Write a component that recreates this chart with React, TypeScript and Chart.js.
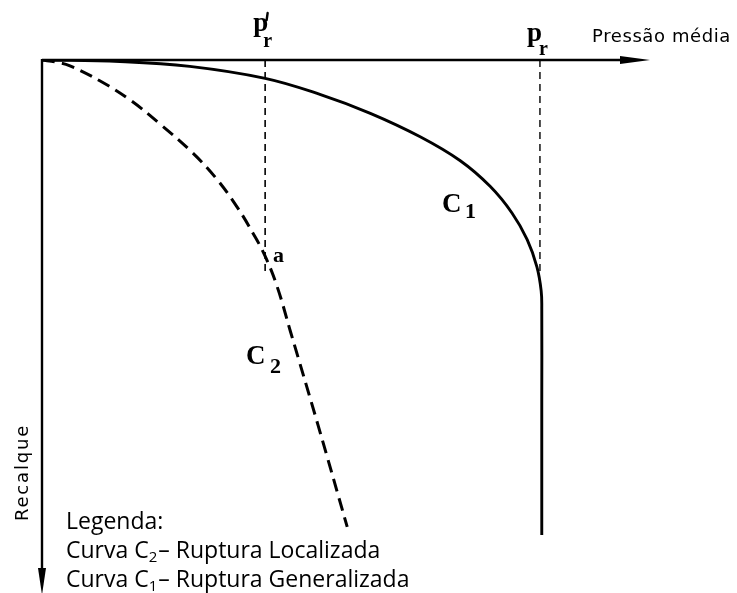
import { useEffect, useRef } from "react";
import { Chart, registerables } from "chart.js";

Chart.register(...registerables);

// Curve C1 — general shear failure (solid line)
const c1Pressure = [0, 12.8, 24.3, 36.7, 45.7, 54.0, 62.2, 68.8, 73.7, 77.3, 79.8, 81.4, 82.1, 82.2, 82.2, 82.2];
const c1Settlement = [0, 0.28, 1.2, 3.45, 6.45, 10.0, 14.4, 18.9, 23.7, 28.7, 33.7, 38.8, 43.3, 46.9, 63.8, 89.1];

// Curve C2 — local shear failure (dashed line)
const c2Pressure = [0, 2.3, 4.6, 9.5, 14.5, 19.4, 24.3, 28.5, 32.1, 34.7, 36.7, 38.7, 40.8, 45.4, 50.2];
const c2Settlement = [0, 0.4, 1.1, 3.9, 7.5, 12.0, 16.9, 22.0, 27.6, 32.5, 36.8, 42.6, 50.7, 68.5, 87.6];

// Failure pressures and the depth their guide lines reach
const prPrime = 36.7;
const prPrimeDepth = 39.8;
const pr = 81.9;
const prDepth = 40.5;

// Axis extents
const xMax = 100;
const yMax = 100;

const legendTitle = "Legenda:";
const legendRows = [
  { sub: "2", text: "– Ruptura Localizada" },
  { sub: "1", text: "– Ruptura Generalizada" },
];

const toPoints = (xs: number[], ys: number[]) => xs.map((x, i) => ({ x, y: ys[i] }));

const SERIF = "'Liberation Serif', 'Times New Roman', serif";
const SANS = "'DejaVu Sans', sans-serif";
const LEGEND = "'Open Sans', Lato, sans-serif";

function fitText(ctx: CanvasRenderingContext2D, text: string, x: number, y: number, width: number) {
  ctx.letterSpacing = "0px";
  const m = ctx.measureText(text).width;
  const ls = (width - m) / text.length;
  ctx.letterSpacing = `${ls}px`;
  ctx.fillText(text, x, y);
  ctx.letterSpacing = "0px";
}

const diagramPlugin = {
  id: "diagram",
  afterDatasetsDraw(chart: Chart) {
    const ctx = chart.ctx;
    const xs = chart.scales.x;
    const ys = chart.scales.y;
    const x0 = xs.getPixelForValue(0);
    const y0 = ys.getPixelForValue(0);
    const xEnd = xs.getPixelForValue(xMax);
    const yEnd = ys.getPixelForValue(yMax);

    ctx.save();
    ctx.strokeStyle = "#000";
    ctx.fillStyle = "#000";

    // horizontal axis with arrow
    ctx.lineWidth = 2.4;
    ctx.beginPath();
    ctx.moveTo(x0, y0);
    ctx.lineTo(xEnd - 20, y0);
    ctx.stroke();
    ctx.beginPath();
    ctx.moveTo(xEnd, y0);
    ctx.lineTo(xEnd - 30, y0 - 4);
    ctx.lineTo(xEnd - 30, y0 + 4);
    ctx.closePath();
    ctx.fill();

    // vertical axis with arrow
    ctx.lineWidth = 2.4;
    ctx.beginPath();
    ctx.moveTo(x0, y0 - 1);
    ctx.lineTo(x0, yEnd - 15);
    ctx.stroke();
    ctx.beginPath();
    ctx.moveTo(x0, yEnd + 2);
    ctx.lineTo(x0 - 4, yEnd - 25);
    ctx.lineTo(x0 + 4, yEnd - 25);
    ctx.closePath();
    ctx.fill();

    // pressure labels
    const xp1 = xs.getPixelForValue(prPrime);
    const xp2 = xs.getPixelForValue(pr);
    ctx.textBaseline = "alphabetic";
    ctx.textAlign = "left";
    ctx.font = `bold 27px ${SERIF}`;
    ctx.fillText("p", xp1 - 12, y0 - 29);
    ctx.font = `bold 20px ${SERIF}`;
    ctx.fillText("r", xp1 - 2, y0 - 13);
    // prime mark
    ctx.lineWidth = 2.4;
    ctx.lineCap = "round";
    ctx.beginPath();
    ctx.moveTo(xp1 + 2.5, y0 - 47);
    ctx.lineTo(xp1 + 1.5, y0 - 40);
    ctx.stroke();
    ctx.lineCap = "butt";

    ctx.font = `bold 27px ${SERIF}`;
    ctx.fillText("p", xp2 - 13, y0 - 19);
    ctx.font = `bold 20px ${SERIF}`;
    ctx.fillText("r", xp2 - 1, y0 - 5);

    ctx.font = `18px ${SANS}`;
    fitText(ctx, "Pressão média", 592, y0 - 18, 139);

    // curve labels
    ctx.font = `bold 27px ${SERIF}`;
    ctx.fillText("C", 442, 212);
    ctx.font = `bold 22px ${SERIF}`;
    ctx.fillText("1", 465, 218);

    ctx.font = `bold 27px ${SERIF}`;
    ctx.fillText("C", 246, 364);
    ctx.font = `bold 22px ${SERIF}`;
    ctx.fillText("2", 270, 373);

    ctx.font = `bold 22px ${SERIF}`;
    ctx.fillText("a", 273, 262);

    // vertical axis title
    ctx.save();
    ctx.translate(28, 473);
    ctx.rotate(-Math.PI / 2);
    ctx.textAlign = "left";
    ctx.font = `18px ${SANS}`;
    fitText(ctx, "Recalque", -48, 0, 97);
    ctx.restore();

    // legend block
    ctx.font = `23px ${LEGEND}`;
    ctx.fillText(legendTitle, 66, 529);
    legendRows.forEach((row, i) => {
      const by = 558 + i * 29;
      let x = 66;
      ctx.font = `23px ${LEGEND}`;
      ctx.fillText("Curva C", x, by);
      x += ctx.measureText("Curva C").width;
      ctx.font = `15px ${LEGEND}`;
      ctx.fillText(row.sub, x, by + 4);
      x += ctx.measureText(row.sub).width + 1;
      ctx.font = `23px ${LEGEND}`;
      ctx.fillText(row.text, x, by);
    });

    ctx.restore();
  },
};

export default function App() {
  const canvasRef = useRef<HTMLCanvasElement | null>(null);

  useEffect(() => {
    const canvas = canvasRef.current;
    if (!canvas) return;
    const chart = new Chart(canvas, {
      type: "scatter",
      data: {
        datasets: [
          {
            label: "C1",
            data: toPoints(c1Pressure, c1Settlement),
            showLine: true,
            borderColor: "#000",
            borderWidth: 2.9,
            pointRadius: 0,
            tension: 0.4,
            fill: false,
          },
          {
            label: "C2",
            data: toPoints(c2Pressure, c2Settlement),
            showLine: true,
            borderColor: "#000",
            borderWidth: 3,
            borderDash: [13, 7],
            pointRadius: 0,
            tension: 0.4,
            fill: false,
          },
          {
            label: "p'r",
            data: [
              { x: prPrime, y: 0 },
              { x: prPrime, y: prPrimeDepth },
            ],
            showLine: true,
            borderColor: "#000",
            borderWidth: 1.6,
            borderDash: [7, 5],
            pointRadius: 0,
          },
          {
            label: "pr",
            data: [
              { x: pr, y: 0 },
              { x: pr, y: prDepth },
            ],
            showLine: true,
            borderColor: "#000",
            borderWidth: 1.4,
            borderDash: [7, 5],
            pointRadius: 0,
          },
        ],
      },
      options: {
        animation: false,
        responsive: false,
        maintainAspectRatio: false,
        layout: { padding: { left: 42, right: 87, top: 60, bottom: 0 } },
        plugins: { legend: { display: false }, tooltip: { enabled: false } },
        scales: {
          x: { type: "linear", min: 0, max: xMax, display: false },
          y: { type: "linear", min: 0, max: yMax, reverse: true, display: false },
        },
      },
      plugins: [diagramPlugin],
    });
    return () => chart.destroy();
  }, []);

  return (
    <div style={{ position: "absolute", left: 0, top: 0, width: 737, height: 593, background: "#fff" }}>
      <canvas ref={canvasRef} width={737} height={593} />
    </div>
  );
}
